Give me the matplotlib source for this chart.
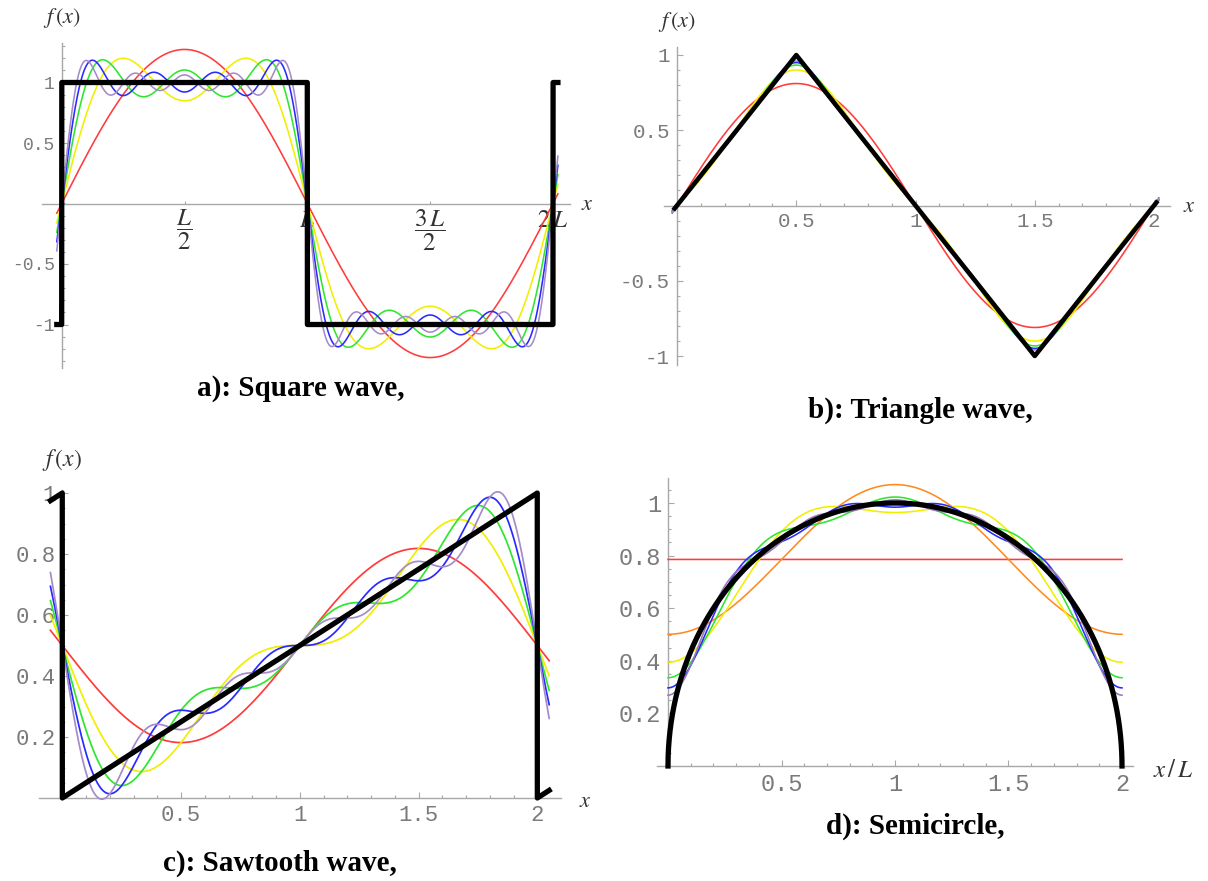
import numpy as np
import matplotlib.pyplot as plt

plt.rcParams['mathtext.fontset'] = 'stix'

# Fourier coefficients of the partial sums (one extra harmonic per curve)
square_harm = [1, 3, 5, 7, 9]
square_coef = [1.2732, 0.4244, 0.2546, 0.1819, 0.1415]

triangle_harm = [1, 3, 5, 7, 9]
triangle_coef = [0.8106, -0.0901, 0.0324, -0.0165, 0.0100]

saw_mean = 0.5
saw_harm = [1, 2, 3, 4, 5]
saw_coef = [-0.3183, -0.1592, -0.1061, -0.0796, -0.0637]

semi_mean = 0.7854
semi_harm = [1, 2, 3, 4, 5]
semi_coef = [-0.2846, -0.1062, -0.0589, -0.0386, -0.0278]

titles = ['a): Square wave,', 'b): Triangle wave,', 'c): Sawtooth wave,', 'd): Semicircle,']

curve_colors = ['#ff3b3b', '#f2ee00', '#2ee62e', '#2a2aff', '#a58bca']
semi_colors = ['#ff3b3b', '#ff8a1f', '#f2ee00', '#2ee62e', '#2a2aff', '#9478bb']
AXIS_GRAY = '#a8a8a8'
LABEL_GRAY = '#7a7a7a'

W, H = 1208, 881
fig = plt.figure(figsize=(12.08, 8.81), dpi=100)


def px_axes(xlim, ylim, x0px, y0px, sx, sy):
	left = x0px + xlim[0] * sx
	right = x0px + xlim[1] * sx
	top = y0px - ylim[1] * sy
	bottom = y0px - ylim[0] * sy
	ax = fig.add_axes([left / W, 1 - bottom / H, (right - left) / W, (bottom - top) / H])
	ax.set_xlim(xlim)
	ax.set_ylim(ylim)
	return ax


def style(ax, fs):
	for s in ['top', 'right']:
		ax.spines[s].set_visible(False)
	for s in ['left', 'bottom']:
		ax.spines[s].set_position(('data', 0))
		ax.spines[s].set_color(AXIS_GRAY)
		ax.spines[s].set_linewidth(1.0)
		ax.spines[s].set_zorder(0.5)
	ax.set_axisbelow(True)
	ax.patch.set_visible(False)
	ax.tick_params(which='both', direction='in', color=AXIS_GRAY, width=0.8,
		labelcolor=LABEL_GRAY, labelsize=fs, labelfontfamily='Liberation Mono')
	ax.tick_params(which='major', length=4.5)
	ax.tick_params(which='minor', length=2.5)
	ax.tick_params(axis='y', pad=5)
	ax.tick_params(axis='x', pad=5)


def mlabel(ax, x, y, s, fs=16, **kw):
	ax.text(x, y, s, fontsize=fs, color='#333333', clip_on=False, **kw)


# ---------------- a) square wave ----------------
ax = px_axes((-0.08, 2.07), (-1.36, 1.33), 61.7, 203.5, 245.65, 121)
style(ax, 13)
x = np.linspace(-0.02, 2.02, 4000)
s = np.zeros_like(x)
for n, c, col in zip(square_harm, square_coef, curve_colors):
	s = s + c * np.sin(n * np.pi * x)
	ax.plot(x, s, color=col, lw=1.15)
xb = np.linspace(-0.02, 2.02, 8001)
ax.plot(xb, np.where(np.mod(xb, 2) < 1, 1, -1), color='black', lw=3.8)
ax.set_yticks([-1, -0.5, 0.5, 1], ['-1', '-0.5', '0.5', '1'])
ax.set_yticks(np.arange(-1.3, 1.31, 0.1), minor=True)
ax.set_xticks([0.5, 1, 1.5, 2], [r'$\dfrac{L}{2}$', r'$L$', r'$\dfrac{3\,L}{2}$', r'$2\,L$'])
ax.tick_params(axis='x', labelcolor='#333333', labelsize=18, pad=3, length=2)
mlabel(ax, 0, 1.53, r'$f\,(x)$', ha='center', va='center')
mlabel(ax, 2.14, 0.0, r'$x$', ha='center', va='center')

# ---------------- b) triangle wave ----------------
ax = px_axes((-0.056, 2.065), (-1.06, 1.05), 677, 205.5, 238.5, 150.5)
style(ax, 15)
x = np.linspace(-0.02, 2.02, 4000)
s = np.zeros_like(x)
for n, c, col in zip(triangle_harm, triangle_coef, curve_colors):
	s = s + c * np.sin(n * np.pi * x)
	ax.plot(x, s, color=col, lw=1.15)
xb = np.linspace(-0.01, 2.01, 4000)
ax.plot(xb, 2 / np.pi * np.arcsin(np.sin(np.pi * xb)), color='black', lw=3.3)
ax.set_yticks([-1, -0.5, 0.5, 1], ['-1', '-0.5', '0.5', '1'])
ax.set_yticks(np.arange(-1.0, 1.01, 0.1), minor=True)
ax.set_xticks([0.5, 1, 1.5, 2], ['0.5', '1', '1.5', '2'])
ax.set_xticks(np.arange(0.1, 2.01, 0.1), minor=True)
mlabel(ax, 0, 1.22, r'$f\,(x)$', ha='center', va='center')
mlabel(ax, 2.15, 0.0, r'$x$', ha='center', va='center')

# ---------------- c) sawtooth wave ----------------
ax = px_axes((-0.1, 2.1), (-0.03, 1.01), 62.3, 798, 237.5, 305)
style(ax, 16)
ax.spines['left'].set_bounds(0, 1.01)
x = np.linspace(-0.05, 2.05, 4000)
s = np.full_like(x, saw_mean)
for n, c, col in zip(saw_harm, saw_coef, curve_colors):
	s = s + c * np.sin(n * np.pi * x)
	ax.plot(x, s, color=col, lw=1.25)
xb = np.linspace(-0.05, 2.05, 8001)
ax.plot(xb, np.mod(xb, 2) / 2, color='black', lw=3.8)
ax.set_yticks([0.2, 0.4, 0.6, 0.8, 1], ['0.2', '0.4', '0.6', '0.8', '1'])
ax.set_yticks(np.arange(0.05, 1.0, 0.05), minor=True)
ax.set_xticks([0.5, 1, 1.5, 2], ['0.5', '1', '1.5', '2'])
ax.set_xticks(np.arange(0.1, 2.01, 0.1), minor=True)
mlabel(ax, 0, 1.108, r'$f\,(x)$', fs=17, ha='center', va='center')
mlabel(ax, 2.2, -0.01, r'$x$', ha='center', va='center')

# ---------------- d) semicircle ----------------
ax = px_axes((-0.048, 2.05), (-0.01, 1.095), 668, 766, 227, 263)
style(ax, 17)
ax.spines['left'].set_bounds(0, 1.095)
x = np.linspace(0, 2, 4000)
s = np.full_like(x, semi_mean)
ax.plot(x, s, color=semi_colors[0], lw=1.15)
for n, c, col in zip(semi_harm, semi_coef, semi_colors[1:]):
	s = s + c * np.cos(n * np.pi * x)
	ax.plot(x, s, color=col, lw=1.15)
xb = np.linspace(0, 2, 8001)
ax.plot(xb, np.sqrt(np.clip(1 - (xb - 1) ** 2, 0, None)), color='black', lw=3.8)
ax.set_yticks([0.2, 0.4, 0.6, 0.8, 1], ['0.2', '0.4', '0.6', '0.8', '1'])
ax.set_yticks(np.arange(0.05, 1.09, 0.05), minor=True)
ax.set_xticks([0.5, 1, 1.5, 2], ['0.5', '1', '1.5', '2'])
ax.set_xticks(np.arange(0.1, 2.01, 0.1), minor=True)
mlabel(ax, 2.225, -0.015, r'$x\,/\,L$', fs=18, ha='center', va='center')

# ---------------- captions ----------------
cap_pos = [(301, 388), (920, 410), (280, 863), (915, 826)]
for t, (cx, cy) in zip(titles, cap_pos):
	fig.text(cx / W, 1 - cy / H, t, ha='center', va='center', fontsize=21,
		fontweight='bold', fontfamily='Liberation Serif')

fig.savefig('out.png', dpi=100)
